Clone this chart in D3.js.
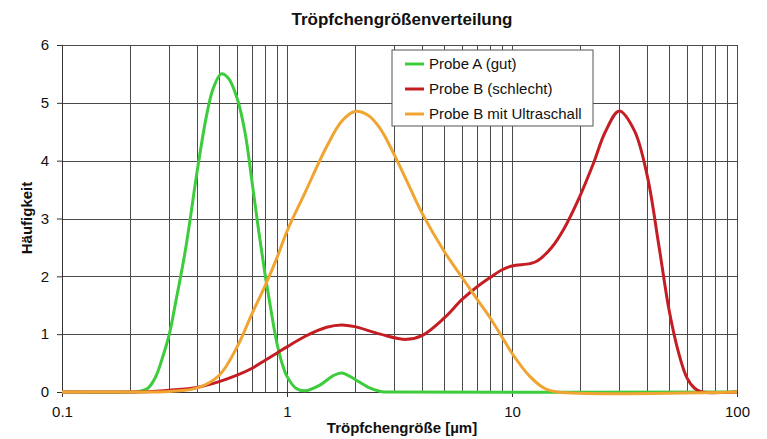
<!DOCTYPE html>
<html>
<head>
<meta charset="utf-8">
<script src="https://cdn.jsdelivr.net/npm/d3@7"></script>
<style>
  body { margin: 0; background: #fff; }
  svg { display: block; font-family: "Liberation Sans", Arial, sans-serif; }
</style>
</head>
<body>
<div id="chart"></div>
<script>
// ---------------- data ----------------
const titleText = "Tröpfchengrößenverteilung";
const xLabel = "Tröpfchengröße [µm]";
const yLabel = "Häufigkeit";
const xTickValues = [0.1, 1, 10, 100];
const yTickValues = [0, 1, 2, 3, 4, 5, 6];
const seriesNames = ["Probe A (gut)", "Probe B (schlecht)", "Probe B mit Ultraschall"];
const seriesColors = ["#3ccc3c", "#c41e24", "#f0a432"];

// [size µm, Häufigkeit]
const probeA = [
  [0.1, 0], [0.2, 0], [0.22, 0.01], [0.24, 0.06], [0.26, 0.25], [0.28, 0.6],
  [0.3, 1.0], [0.32, 1.55], [0.35, 2.35], [0.37, 2.95], [0.4, 3.85], [0.44, 4.8],
  [0.47, 5.25], [0.51, 5.5], [0.55, 5.42], [0.6, 5.08], [0.65, 4.5], [0.7, 3.62],
  [0.75, 2.76], [0.8, 2.02], [0.85, 1.4], [0.9, 0.86], [0.95, 0.5], [1.0, 0.27],
  [1.1, 0.06], [1.2, 0.02], [1.4, 0.12], [1.6, 0.28], [1.75, 0.33], [2.0, 0.22],
  [2.3, 0.08], [2.6, 0.01], [3, 0], [100, 0]
];
const probeB = [
  [0.1, 0], [0.2, 0], [0.25, 0.01], [0.3, 0.03], [0.4, 0.08], [0.5, 0.18],
  [0.6, 0.29], [0.7, 0.41], [0.8, 0.55], [0.9, 0.67], [1.0, 0.78], [1.2, 0.96],
  [1.5, 1.12], [1.75, 1.16], [2.0, 1.13], [2.6, 1.0], [3.4, 0.91], [4, 0.98],
  [5, 1.28], [6, 1.6], [7, 1.82], [8, 1.98], [9, 2.11], [10, 2.18], [12, 2.22],
  [13, 2.27], [15, 2.5], [17, 2.82], [20, 3.38], [23, 3.95], [26, 4.5],
  [30, 4.86], [35, 4.52], [40, 3.72], [45, 2.52], [50, 1.4], [55, 0.68],
  [60, 0.24], [65, 0.06], [70, 0], [100, 0]
];
const probeBUltra = [
  [0.1, 0], [0.2, 0], [0.3, 0.01], [0.4, 0.07], [0.5, 0.29], [0.6, 0.78],
  [0.7, 1.36], [0.8, 1.84], [0.9, 2.31], [1.0, 2.78], [1.2, 3.44], [1.5, 4.24],
  [1.75, 4.68], [2.0, 4.85], [2.3, 4.78], [2.6, 4.55], [3, 4.1], [3.5, 3.55],
  [4, 3.08], [5, 2.43], [6, 1.98], [7, 1.6], [8, 1.28], [9, 0.96], [10, 0.67],
  [12, 0.27], [14, 0.06], [16, 0], [100, 0]
];
const seriesData = [probeA, probeB, probeBUltra];

// ---------------- layout ----------------
const width = 767, height = 439;
const margin = { top: 45, right: 30, bottom: 47, left: 62 };
const innerW = width - margin.left - margin.right;   // 675
const innerH = height - margin.top - margin.bottom;  // 347

const svg = d3.select("#chart").append("svg")
  .attr("width", width)
  .attr("height", height);

const g = svg.append("g")
  .attr("transform", `translate(${margin.left},${margin.top})`);

// ---------------- scales ----------------
const x = d3.scaleLog().domain([0.1, 100]).range([0, innerW]);
const y = d3.scaleLinear().domain([0, 6]).range([innerH, 0]);

// ---------------- grid ----------------
const minorTicks = [];
[0.1, 1, 10].forEach(d => {
  for (let k = 1; k <= 10; k++) minorTicks.push(d * k);
});
const gridX = Array.from(new Set(minorTicks.map(v => +v.toPrecision(3))));

g.append("g").selectAll("line")
  .data(gridX)
  .join("line")
  .attr("x1", d => Math.round(x(d)) + 0.5)
  .attr("x2", d => Math.round(x(d)) + 0.5)
  .attr("y1", 0)
  .attr("y2", innerH)
  .attr("stroke", "#4a4a4a")
  .attr("stroke-width", 1);

g.append("g").selectAll("line")
  .data(yTickValues)
  .join("line")
  .attr("x1", 0)
  .attr("x2", innerW)
  .attr("y1", d => Math.round(y(d)) + 0.5)
  .attr("y2", d => Math.round(y(d)) + 0.5)
  .attr("stroke", "#4a4a4a")
  .attr("stroke-width", 1);

// ---------------- axes ----------------
const xAxis = g.append("g")
  .attr("transform", `translate(0,${innerH})`)
  .call(d3.axisBottom(x).tickValues(xTickValues).tickFormat(d3.format("")).tickSize(5).tickSizeOuter(0));
const yAxis = g.append("g")
  .call(d3.axisLeft(y).tickValues(yTickValues).tickFormat(d3.format("d")).tickSize(5).tickSizeOuter(0));

[xAxis, yAxis].forEach(a => {
  a.select(".domain").attr("stroke", "#333");
  a.selectAll(".tick line").attr("stroke", "#333");
  a.selectAll(".tick text")
    .attr("font-family", "Liberation Sans, Arial, sans-serif")
    .attr("font-size", 15)
    .attr("fill", "#111");
});
xAxis.selectAll(".tick text").attr("dy", "1.15em");
yAxis.selectAll(".tick text").attr("x", -13);

// ---------------- lines ----------------
const line = d3.line()
  .x(d => x(d[0]))
  .y(d => y(d[1]))
  .curve(d3.curveCatmullRom.alpha(0.5));

g.append("g").selectAll("path")
  .data(seriesData)
  .join("path")
  .attr("d", line)
  .attr("fill", "none")
  .attr("stroke", (d, i) => seriesColors[i])
  .attr("stroke-width", 3)
  .attr("stroke-linejoin", "round");

// ---------------- labels ----------------
svg.append("text")
  .attr("x", 402)
  .attr("y", 25)
  .attr("text-anchor", "middle")
  .attr("font-size", 17)
  .attr("font-weight", "bold")
  .attr("fill", "#111")
  .text(titleText);

svg.append("text")
  .attr("x", 402)
  .attr("y", 433)
  .attr("text-anchor", "middle")
  .attr("font-size", 15)
  .attr("font-weight", "bold")
  .attr("fill", "#111")
  .text(xLabel);

svg.append("text")
  .attr("transform", "translate(32,218) rotate(-90)")
  .attr("text-anchor", "middle")
  .attr("font-size", 15)
  .attr("font-weight", "bold")
  .attr("fill", "#111")
  .text(yLabel);

// ---------------- legend ----------------
const legend = svg.append("g").attr("transform", "translate(392,50)");
legend.append("rect")
  .attr("width", 201)
  .attr("height", 76)
  .attr("fill", "#fff")
  .attr("stroke", "#555")
  .attr("stroke-width", 1);

const rows = legend.selectAll("g.row")
  .data(seriesNames)
  .join("g")
  .attr("class", "row")
  .attr("transform", (d, i) => `translate(0,${14 + i * 25})`);

rows.append("line")
  .attr("x1", 13).attr("x2", 32)
  .attr("y1", 0).attr("y2", 0)
  .attr("stroke", (d, i) => seriesColors[i])
  .attr("stroke-width", 3);

rows.append("text")
  .attr("x", 37)
  .attr("y", 0)
  .attr("dy", "0.36em")
  .attr("font-size", 15)
  .attr("fill", "#111")
  .text(d => d);
</script>
</body>
</html>
